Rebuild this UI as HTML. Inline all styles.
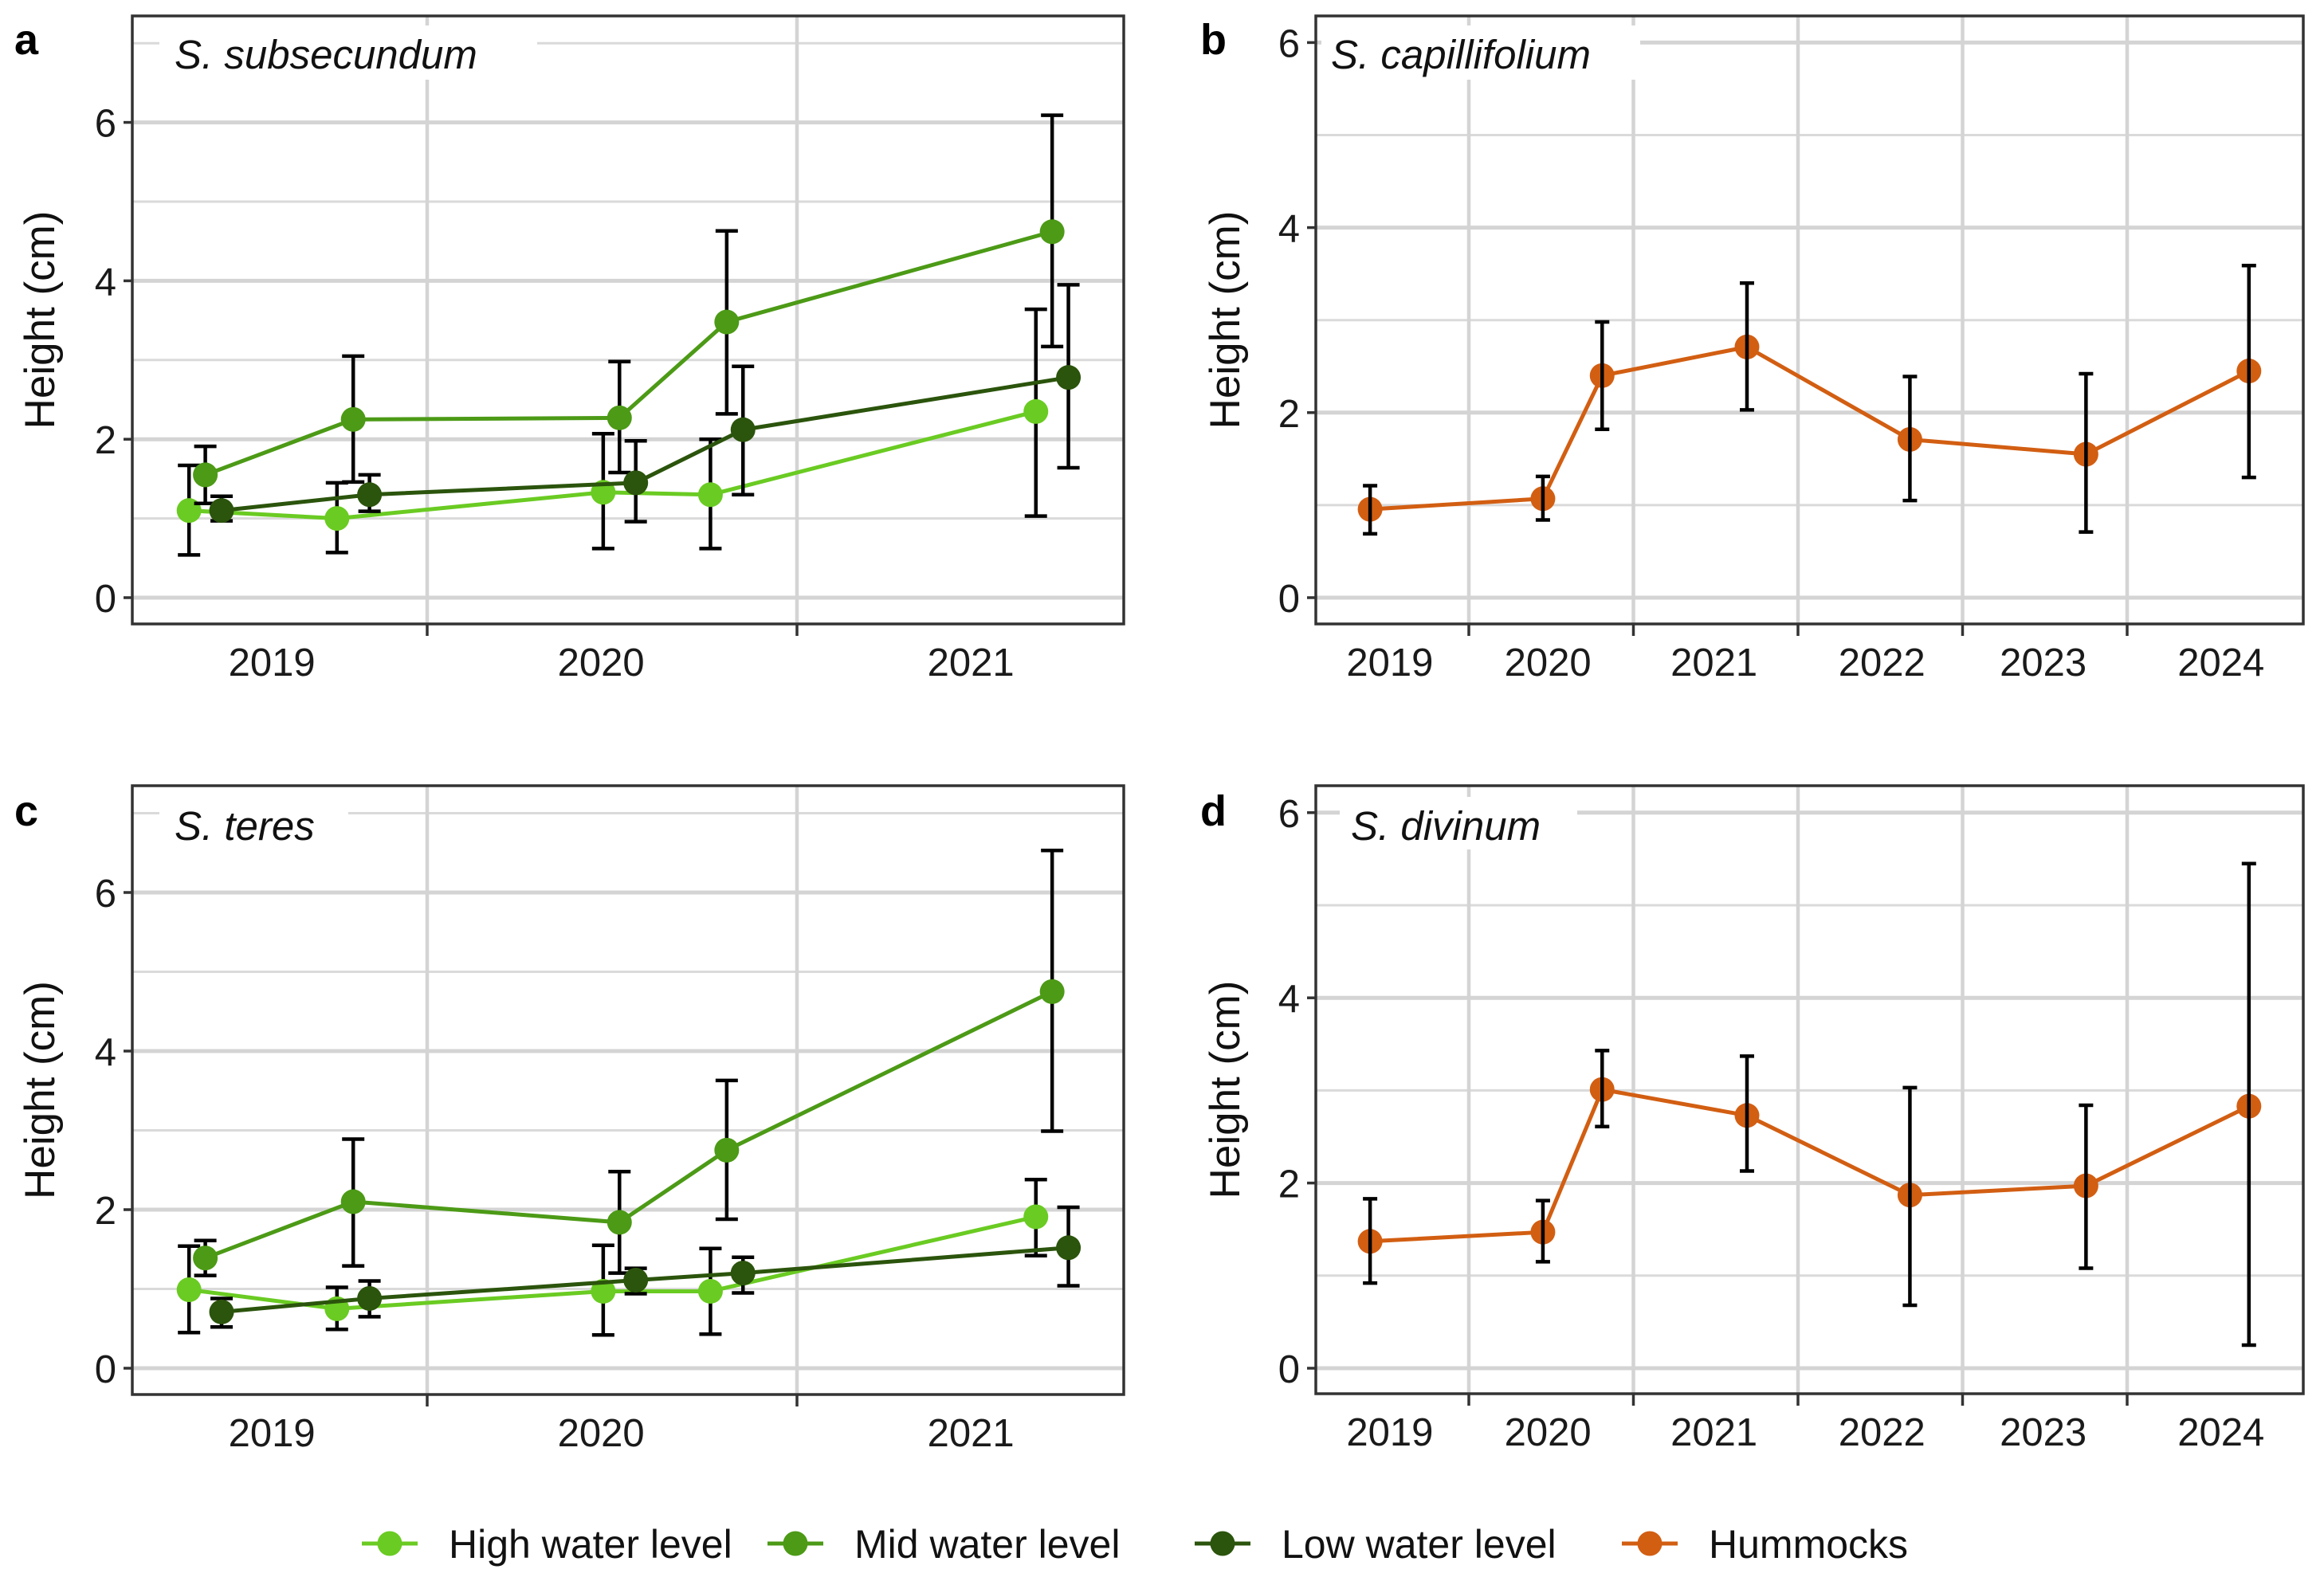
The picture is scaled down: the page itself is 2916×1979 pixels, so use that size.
<!DOCTYPE html>
<html><head><meta charset="utf-8"><style>
html,body{margin:0;padding:0;background:#fff}
svg{display:block}
text{font-family:"Liberation Sans",sans-serif}
</style></head><body>
<svg id="fig" width="2916" height="1979" viewBox="0 0 2916 1979" xmlns="http://www.w3.org/2000/svg"></svg>
<script>
// ---- Panel a: S. subsecundum ----
const aTimes = [2019.40, 2019.80, 2020.52, 2020.81, 2021.69];
const aHigh = [1.10, 1.00, 1.33, 1.30, 2.35];
const aHighLo = [0.54, 0.57, 0.62, 0.62, 1.03];
const aHighHi = [1.67, 1.45, 2.07, 2.00, 3.64];
const aMid = [1.55, 2.25, 2.27, 3.48, 4.62];
const aMidLo = [1.19, 1.46, 1.58, 2.32, 3.17];
const aMidHi = [1.91, 3.05, 2.98, 4.63, 6.09];
const aLow = [1.10, 1.30, 1.45, 2.12, 2.78];
const aLowLo = [0.97, 1.09, 0.96, 1.30, 1.64];
const aLowHi = [1.28, 1.55, 1.98, 2.92, 3.95];
// ---- Panel c: S. teres ----
const cTimes = [2019.40, 2019.80, 2020.52, 2020.81, 2021.69];
const cHigh = [0.99, 0.75, 0.97, 0.97, 1.91];
const cHighLo = [0.45, 0.49, 0.42, 0.43, 1.42];
const cHighHi = [1.54, 1.02, 1.55, 1.51, 2.38];
const cMid = [1.39, 2.10, 1.84, 2.75, 4.75];
const cMidLo = [1.17, 1.29, 1.20, 1.88, 2.99];
const cMidHi = [1.61, 2.89, 2.48, 3.63, 6.53];
const cLow = [0.71, 0.88, 1.11, 1.20, 1.52];
const cLowLo = [0.52, 0.65, 0.94, 0.95, 1.04];
const cLowHi = [0.88, 1.10, 1.26, 1.40, 2.03];
// ---- Panel b: S. capillifolium ----
const bTimes = [2019.40, 2020.45, 2020.81, 2021.69, 2022.68, 2023.75, 2024.74];
const bHum = [0.955, 1.07, 2.40, 2.71, 1.71, 1.55, 2.45];
const bHumLo = [0.69, 0.84, 1.82, 2.03, 1.05, 0.71, 1.30];
const bHumHi = [1.21, 1.31, 2.98, 3.40, 2.39, 2.42, 3.59];
// ---- Panel d: S. divinum ----
const dTimes = [2019.40, 2020.45, 2020.81, 2021.69, 2022.68, 2023.75, 2024.74];
const dHum = [1.37, 1.47, 3.01, 2.73, 1.87, 1.97, 2.83];
const dHumLo = [0.92, 1.15, 2.61, 2.13, 0.68, 1.08, 0.25];
const dHumHi = [1.83, 1.81, 3.43, 3.37, 3.03, 2.84, 5.45];
// ---- axis ticks ----
const yTicks = [0, 2, 4, 6];
const yMinor = [1, 3, 5, 7];
const abYearLabels = ["2019", "2020", "2021"];
const abYearLabelPos = [2019.58, 2020.47, 2021.47];
const abBoundaries = [2020, 2021];
const bdYearLabels = ["2019", "2020", "2021", "2022", "2023", "2024"];
const bdYearLabelPos = [2019.52, 2020.48, 2021.49, 2022.51, 2023.49, 2024.57];
const bdBoundaries = [2020, 2021, 2022, 2023, 2024];
const legendLabels = ["High water level", "Mid water level", "Low water level", "Hummocks"];

const COL = {high:"#6acb22", mid:"#4c9a16", low:"#2b540c", hum:"#d25e12"};
const NS = "http://www.w3.org/2000/svg";
const svg = document.getElementById("fig");
function mk(tag, attrs, parent){
  const e = document.createElementNS(NS, tag);
  for (const k in attrs) e.setAttribute(k, attrs[k]);
  (parent||svg).appendChild(e);
  return e;
}

function panel(cfg){
  const g = mk("g", {});
  
  
  const X = t => cfg.x0 + (t - 2020) * cfg.pxPerYear;
  const Y = v => cfg.yZero - v * cfg.pxPerUnit;
  cfg.minor.forEach(v => { if (Y(v) > cfg.top) {
    const l = mk("line", {x1:cfg.left, x2:cfg.right, y1:Y(v), y2:Y(v), stroke:"#dadada", "stroke-width":3}, g);
    
    
  }});
  cfg.yTicks.forEach(v => {
    const l = mk("line", {x1:cfg.left, x2:cfg.right, y1:Y(v), y2:Y(v), stroke:"#d4d4d4", "stroke-width":5}, g);
    
    
  });
  cfg.bounds.forEach(t => {
    const l = mk("line", {x1:X(t), x2:X(t), y1:cfg.top, y2:cfg.bottom, stroke:"#d4d4d4", "stroke-width":4.5}, g);
    
    
    const tk = mk("line", {x1:X(t), x2:X(t), y1:cfg.bottom, y2:cfg.bottom+15, stroke:"#333", "stroke-width":3.5}, g);
    
    
  });
  const tb = mk("rect", {x:cfg.titleBox[0], y:cfg.titleBox[1], width:cfg.titleBox[2], height:cfg.titleBox[3], fill:"#fff"}, g);
  
  
  const tt = mk("text", {x:cfg.titleX, y:cfg.titleY, "font-size":51, "font-style":"italic", fill:"#111"}, g);
  tt.textContent = cfg.title;
  
  
  cfg.series.forEach(s => {
    const off = s.dodge || 0;
    const pts = cfg.times.map((t,i) => [X(t + off), Y(s.v[i])]);
    const drawErr = () => cfg.times.forEach((t,i) => {
      const x = X(t + off), cw = cfg.capW;
      const eg = mk("g", {stroke:"#000", "stroke-width":4.5}, g);
      
      
      mk("line", {x1:x, x2:x, y1:Y(s.lo[i]), y2:Y(s.hi[i])}, eg);
      mk("line", {x1:x-cw, x2:x+cw, y1:Y(s.lo[i]), y2:Y(s.lo[i])}, eg);
      mk("line", {x1:x-cw, x2:x+cw, y1:Y(s.hi[i]), y2:Y(s.hi[i])}, eg);
    });
    if (!cfg.errOnTop) drawErr();
    const pl = mk("polyline", {points:pts.map(p=>p.join(",")).join(" "), fill:"none", stroke:s.col, "stroke-width":5, "stroke-linejoin":"round"}, g);
    
    
    pts.forEach(p => {
      const c = mk("circle", {cx:p[0], cy:p[1], r:15.5, fill:s.col}, g);
      
      
    });
    if (cfg.errOnTop) drawErr();
  });
  const fr = mk("rect", {x:cfg.left, y:cfg.top, width:cfg.right-cfg.left, height:cfg.bottom-cfg.top, fill:"none", stroke:"#333", "stroke-width":3.5}, g);
  
  
  cfg.yTicks.forEach((v,i) => {
    const tk = mk("line", {x1:cfg.left-11, x2:cfg.left, y1:Y(v), y2:Y(v), stroke:"#333", "stroke-width":3.5}, g);
    
    
    const t = mk("text", {x:cfg.left-20, y:Y(v)+18, "font-size":49, "text-anchor":"end", fill:"#1a1a1a"}, g);
    t.textContent = String(v);
    
    
  });
  cfg.xLabels.forEach((lab,i) => {
    const t = mk("text", {x:X(cfg.xLabelPos[i]), y:cfg.bottom+65, "font-size":49, "text-anchor":"middle", fill:"#1a1a1a"}, g);
    t.textContent = lab;
    
    
  });
  const yl = mk("text", {x:0, y:0, "font-size":53, "text-anchor":"middle", fill:"#111", transform:`translate(${cfg.ylabX},${(cfg.top+cfg.bottom)/2}) rotate(-90)`}, g);
  yl.textContent = "Height (cm)";
  
  
  const pl = mk("text", {x:cfg.letterX, y:cfg.letterY, "font-size":54, "font-weight":"bold", fill:"#000"}, g);
  pl.textContent = cfg.letter;
  
  
}

const dodge = 0.044;
function greens(t, h, hl, hh, m, ml, mh, l, ll, lh){
  return [
    {key:"high", col:COL.high, v:h, lo:hl, hi:hh, dodge:-dodge},
    {key:"mid", col:COL.mid, v:m, lo:ml, hi:mh, dodge:0},
    {key:"low", col:COL.low, v:l, lo:ll, hi:lh, dodge:dodge}
  ];
}
panel({name:"panel-a", letter:"a", letterX:18, letterY:68, left:166, right:1410, top:20, bottom:783,
  x0:536, pxPerYear:464, yZero:750, pxPerUnit:99.4, yTicks:yTicks, minor:yMinor,
  bounds:abBoundaries, xLabels:abYearLabels, xLabelPos:abYearLabelPos, times:aTimes, capW:14,
  series:greens(aTimes,aHigh,aHighLo,aHighHi,aMid,aMidLo,aMidHi,aLow,aLowLo,aLowHi),
  title:"S. subsecundum", titleX:219, titleY:86, titleBox:[200,32,474,68], ylabX:68});
panel({name:"panel-c", letter:"c", letterX:18, letterY:1036, left:166, right:1410, top:986, bottom:1750,
  x0:536, pxPerYear:464, yZero:1717, pxPerUnit:99.5, yTicks:yTicks, minor:yMinor,
  bounds:abBoundaries, xLabels:abYearLabels, xLabelPos:abYearLabelPos, times:cTimes, capW:14,
  series:greens(cTimes,cHigh,cHighLo,cHighHi,cMid,cMidLo,cMidHi,cLow,cLowLo,cLowHi),
  title:"S. teres", titleX:219, titleY:1054, titleBox:[200,1000,237,66], ylabX:68});
panel({name:"panel-b", letter:"b", letterX:1506, letterY:68, left:1651, right:2890, top:20, bottom:783,
  x0:1843, pxPerYear:206.5, yZero:750, pxPerUnit:116.1, yTicks:yTicks, minor:[1,3,5],
  bounds:bdBoundaries, xLabels:bdYearLabels, xLabelPos:bdYearLabelPos, times:bTimes, capW:9, errOnTop:true,
  series:[{key:"hummocks", col:COL.hum, v:bHum, lo:bHumLo, hi:bHumHi}],
  title:"S. capillifolium", titleX:1670, titleY:86, titleBox:[1658,32,400,68], ylabX:1555});
panel({name:"panel-d", letter:"d", letterX:1506, letterY:1036, left:1651, right:2890, top:986, bottom:1749,
  x0:1843, pxPerYear:206.5, yZero:1717, pxPerUnit:116.2, yTicks:yTicks, minor:[1,3,5],
  bounds:bdBoundaries, xLabels:bdYearLabels, xLabelPos:bdYearLabelPos, times:dTimes, capW:9, errOnTop:true,
  series:[{key:"hummocks", col:COL.hum, v:dHum, lo:dHumLo, hi:dHumHi}],
  title:"S. divinum", titleX:1695, titleY:1054, titleBox:[1681,1000,298,66], ylabX:1555});

const legCols = [COL.high, COL.mid, COL.low, COL.hum];
const legKeyX = [454, 963, 1499, 2035];
const lg = mk("g", {});


legendLabels.forEach((lab,i) => {
  const eg = mk("g", {}, lg);
  
  
  const x = legKeyX[i];
  mk("line", {x1:x, x2:x+70, y1:1937, y2:1937, stroke:legCols[i], "stroke-width":5}, eg);
  mk("circle", {cx:x+35, cy:1937, r:15.5, fill:legCols[i]}, eg);
  const t = mk("text", {x:x+109, y:1955, "font-size":50, fill:"#111"}, eg);
  t.textContent = lab;
});
</script>
</body></html>
